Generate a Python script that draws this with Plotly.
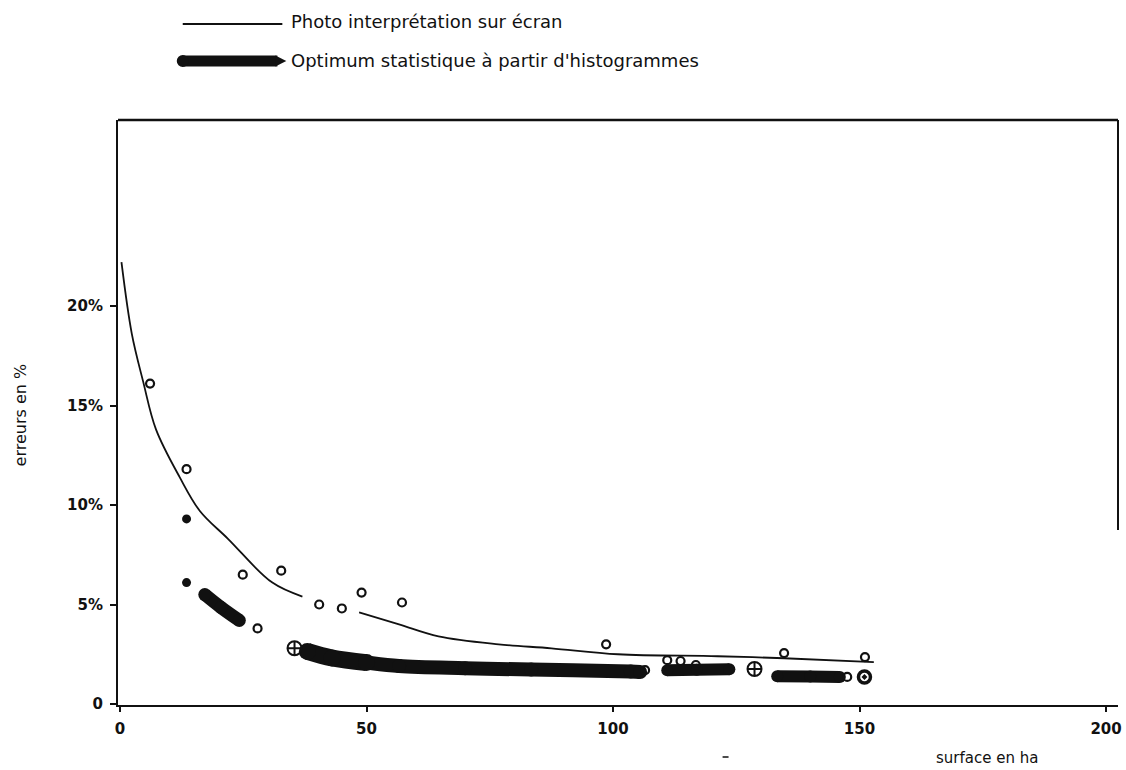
import plotly.graph_objects as go

# ---- data ---------------------------------------------------------------
# Photo interprétation sur écran : fitted curve (None = break in the line)
photo_curve_x = [0.3, 2.4, 4.7, 7.3, 12.1, 16.2, 21.9, 30.9, 37.0, None,
                 48.5, 56.6, 64.6, 76.8, 87.5, 101.0, 121.2, 134.7, 152.9]
photo_curve_y = [22.2, 18.6, 16.2, 13.8, 11.4, 9.7, 8.3, 6.1, 5.4, None,
                 4.6, 4.0, 3.4, 3.0, 2.8, 2.5, 2.4, 2.3, 2.1]

# measured plots (open circles)
photo_pts_x = [6.1, 13.5, 24.9, 32.7, 27.9, 40.4, 45.0, 49.0, 57.2, 98.6,
               111.0, 113.7, 116.8, 134.7, 151.1, 106.5, 147.5]
photo_pts_y = [16.1, 11.8, 6.5, 6.7, 3.8, 5.0, 4.8, 5.6, 5.1, 3.0,
               2.2, 2.16, 1.96, 2.56, 2.36, 1.7, 1.36]

# Optimum statistique à partir d'histogrammes : thick bands, one list per band
optimum_bands_x = [
    [17.2, 20.5, 24.2],
    [38.0, 43.0, 50.0, 56.6, 70.0, 83.4, 103.6, 105.5],
    [111.0, 117.0, 123.6],
    [133.3, 140.0, 146.0],
]
optimum_bands_y = [
    [5.5, 4.85, 4.2],
    [2.64, 2.31, 2.08, 1.91, 1.8, 1.73, 1.63, 1.61],
    [1.7, 1.72, 1.75],
    [1.4, 1.38, 1.36],
]

# isolated filled plots
filled_x = [13.5, 13.5]
filled_y = [9.3, 6.1]

# crossed circles and ringed plot
crossed_x = [35.4, 128.7]
crossed_y = [2.8, 1.76]
ringed_x = [151.0]
ringed_y = [1.36]

x_ticks = [0, 50, 100, 150, 200]
x_ticktext = ["0", "50", "100", "150", "200"]
y_ticks = [0, 5, 10, 15, 20]
y_ticktext = ["0", "5%", "10%", "15%", "20%"]

legend_labels = ["Photo interprétation sur écran",
                 "Optimum statistique à partir d'histogrammes"]

# ---- figure -------------------------------------------------------------
INK = "#111111"
FONT = "DejaVu Sans"
W, H = 1126, 770
ML, MR, MT, MB = 118, 4, 120, 65
PW, PH = W - ML - MR, H - MT - MB


def px(x):
    return (x - ML) / PW


def py(y):
    return (H - MB - y) / PH


fig = go.Figure()

fig.add_trace(go.Scatter(
    x=photo_curve_x, y=photo_curve_y, mode="lines",
    line=dict(color=INK, width=1.8, shape="spline", smoothing=1.0),
    connectgaps=False, showlegend=False, hoverinfo="skip"))

band_widths = [13, 14, 12, 12]
for bx, by, bw in zip(optimum_bands_x, optimum_bands_y, band_widths):
    fig.add_trace(go.Scatter(
        x=bx, y=by, mode="lines+markers",
        line=dict(color=INK, width=bw, shape="spline"),
        marker=dict(color=INK, size=bw, line=dict(width=0)),
        showlegend=False, hoverinfo="skip"))

# thicker head of the main band
fig.add_trace(go.Scatter(
    x=optimum_bands_x[1][:3], y=optimum_bands_y[1][:3], mode="lines+markers",
    line=dict(color=INK, width=17, shape="spline"),
    marker=dict(color=INK, size=17, line=dict(width=0)),
    showlegend=False, hoverinfo="skip"))

fig.add_trace(go.Scatter(
    x=photo_pts_x, y=photo_pts_y, mode="markers",
    marker=dict(symbol="circle-open", size=8, color=INK, line=dict(width=2.2)),
    showlegend=False, hoverinfo="skip"))

fig.add_trace(go.Scatter(
    x=filled_x, y=filled_y, mode="markers",
    marker=dict(symbol="circle", size=9, color=INK),
    showlegend=False, hoverinfo="skip"))

fig.add_trace(go.Scatter(
    x=crossed_x, y=crossed_y, mode="markers",
    marker=dict(symbol="circle-cross-open", size=14, color=INK,
                line=dict(width=2)),
    showlegend=False, hoverinfo="skip"))

fig.add_trace(go.Scatter(
    x=ringed_x, y=ringed_y, mode="markers",
    marker=dict(symbol="circle-open-dot", size=12, color=INK,
                line=dict(width=3.5)),
    showlegend=False, hoverinfo="skip"))

# ---- hand-drawn legend above the frame ---------------------------------
shapes = [
    dict(type="line", xref="paper", yref="paper",
         x0=px(183), x1=px(283), y0=py(24), y1=py(24),
         line=dict(color=INK, width=1.8)),
    dict(type="line", xref="paper", yref="paper",
         x0=px(183), x1=px(278), y0=py(61), y1=py(61),
         line=dict(color=INK, width=11)),
    dict(type="circle", xref="paper", yref="paper",
         x0=px(177), x1=px(189), y0=py(67), y1=py(55),
         fillcolor=INK, line=dict(width=0)),
    dict(type="path", xref="paper", yref="paper",
         path=(f"M {px(276)} {py(55.5)} L {px(287)} {py(61)} "
               f"L {px(276)} {py(66.5)} Z"),
         fillcolor=INK, line=dict(width=0)),
    # right-hand edge of the frame, upper part
    dict(type="line", xref="paper", yref="paper",
         x0=1, x1=1, y0=py(530), y1=1,
         line=dict(color=INK, width=2)),
    # small stroke under the axis
    dict(type="line", xref="paper", yref="paper",
         x0=px(725), x1=px(731), y0=py(757), y1=py(757),
         line=dict(color=INK, width=1.5)),
]

annotations = [
    dict(text=legend_labels[0], xref="paper", yref="paper",
         x=px(290), y=py(22), xanchor="left", yanchor="middle",
         showarrow=False, font=dict(family=FONT, size=18, color=INK)),
    dict(text=legend_labels[1], xref="paper", yref="paper",
         x=px(290), y=py(61), xanchor="left", yanchor="middle",
         showarrow=False, font=dict(family=FONT, size=18, color=INK)),
    dict(text="erreurs en %", xref="paper", yref="paper",
         x=px(20), y=py(415), xanchor="center", yanchor="middle",
         textangle=-90, showarrow=False,
         font=dict(family=FONT, size=16, color=INK)),
    dict(text="surface en ha", xref="paper", yref="paper",
         x=px(990), y=py(758), xanchor="center", yanchor="middle",
         showarrow=False, font=dict(family=FONT, size=15, color=INK)),
]

fig.update_layout(
    width=W, height=H,
    margin=dict(l=ML, r=MR, t=MT, b=MB, pad=0),
    paper_bgcolor="white", plot_bgcolor="white",
    shapes=shapes, annotations=annotations,
    font=dict(family=FONT, color=INK),
)

fig.update_xaxes(
    range=[(ML - 120) / 4.95, (W - MR - 120) / 4.95],
    tickvals=x_ticks, ticktext=x_ticktext,
    ticks="outside", ticklen=5, tickwidth=2, tickcolor=INK,
    tickfont=dict(family=FONT, size=15, color=INK, weight="bold"),
    showline=True, linecolor=INK, linewidth=2, mirror=False,
    showgrid=False, zeroline=False, ticklabelstandoff=4,
)
fig.update_yaxes(
    range=[(704 - (H - MB)) / 19.9, (704 - MT) / 19.9],
    tickvals=y_ticks, ticktext=y_ticktext,
    ticks="outside", ticklen=6, tickwidth=2, tickcolor=INK,
    tickfont=dict(family=FONT, size=15, color=INK, weight="bold"),
    showline=True, linecolor=INK, linewidth=2, mirror=False,
    showgrid=False, zeroline=False, ticklabelstandoff=4,
)

# top edge of the frame
fig.add_shape(type="line", xref="paper", yref="paper",
              x0=0, x1=1, y0=1, y1=1, line=dict(color=INK, width=2.5))

fig.write_html("out.html")
